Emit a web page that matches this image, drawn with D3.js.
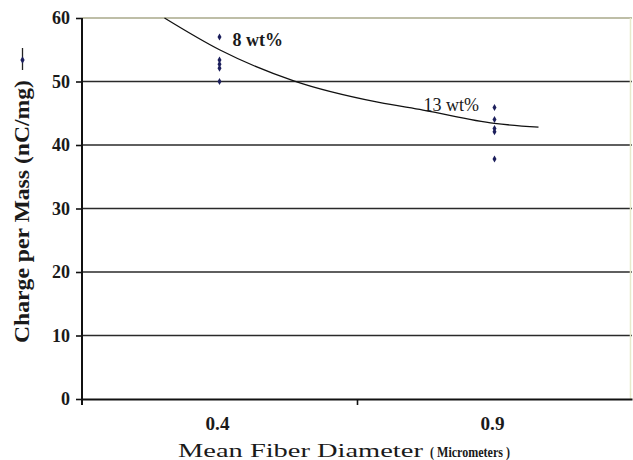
<!DOCTYPE html>
<html lang="en">
<head>
<meta charset="UTF-8">
<title>Charge per Mass vs Mean Fiber Diameter</title>
<style>
  html, body { margin: 0; padding: 0; background: #fff; }
  svg { display: block; font-family: "Liberation Serif", "DejaVu Serif", serif; }
</style>
</head>
<body>
<div id="chart"></div>
<script src="https://d3js.org/d3.v7.min.js"></script>
<script>
// category axis labels
const categories = ["0.4", "0.9"];
// y ticks
const yTicks = [0, 10, 20, 30, 40, 50, 60];
// measured points for each category
const points8 = [57.0, 53.4, 52.7, 52.1, 50.0];
const points13 = [45.9, 44.0, 42.6, 42.1, 37.8];
// trend line (category index, value)
const trendX = [0.8, 1.0, 1.27, 1.58, 1.74, 2.0, 2.16];
const trendY = [60.0, 55.0, 50.1, 46.7, 45.5, 43.4, 42.8];
const labels = [
  { text: "8 wt%", cat: 1, value: 56.5, dx: 13, bold: true },
  { text: "13 wt%", cat: 2, value: 46.3, dx: -71, bold: false }
];

const width = 633, height = 460;
const margin = { top: 18, right: 1, bottom: 61, left: 82 };

const svg = d3.select("#chart").append("svg")
  .attr("width", width)
  .attr("height", height);

// x is a category index scale, categories sit at 1 and 2
const x = d3.scaleLinear()
  .domain([0.5, categories.length + 0.5])
  .range([margin.left, width - margin.right]);

const y = d3.scaleLinear()
  .domain([0, 60])
  .range([height - margin.bottom, margin.top]);

// gridlines
svg.append("g")
  .selectAll("line")
  .data(yTicks.filter(d => d > 0))
  .join("line")
    .attr("x1", x(0.5))
    .attr("x2", x(categories.length + 0.5))
    .attr("y1", d => y(d))
    .attr("y2", d => y(d))
    .attr("stroke", d => d === 60 ? "#a9a98a" : "#2a2a2a")
    .attr("stroke-width", 1.6);

// faint right border of plot area
svg.append("line")
  .attr("x1", x(categories.length + 0.5) - 1.5)
  .attr("x2", x(categories.length + 0.5) - 1.5)
  .attr("y1", y(60))
  .attr("y2", y(0))
  .attr("stroke", "#e6eacb")
  .attr("stroke-width", 1.5);

// y axis
const yAxis = svg.append("g")
  .attr("transform", `translate(${margin.left},0)`)
  .call(d3.axisLeft(y).tickValues(yTicks).tickSize(6).tickPadding(6));
yAxis.select(".domain").remove();
yAxis.selectAll(".tick line").attr("stroke", "#111").attr("stroke-width", 1.6);
yAxis.selectAll(".tick text")
  .attr("font-family", "Liberation Serif, serif")
  .attr("font-size", 18)
  .attr("font-weight", "bold")
  .attr("fill", "#1a1a1a");

svg.append("line")
  .attr("x1", margin.left).attr("x2", margin.left)
  .attr("y1", y(60)).attr("y2", y(0) + 6)
  .attr("stroke", "#111").attr("stroke-width", 2);

// x axis, tick between the two categories
const xAxis = svg.append("g")
  .attr("transform", `translate(0,${y(0)})`)
  .call(d3.axisBottom(x)
    .tickValues(d3.range(1.5, categories.length, 1))
    .tickSizeInner(6)
    .tickSizeOuter(0)
    .tickFormat(""));
xAxis.select(".domain").attr("stroke", "#111").attr("stroke-width", 2);
xAxis.selectAll(".tick line").attr("stroke", "#111").attr("stroke-width", 1.6);

svg.append("g")
  .selectAll("text")
  .data(categories)
  .join("text")
    .attr("x", (d, i) => x(i + 1) - 2)
    .attr("y", y(0) + 31)
    .attr("text-anchor", "middle")
    .attr("font-size", 18)
    .attr("font-weight", "bold")
    .attr("fill", "#1a1a1a")
    .attr("textLength", 24)
    .attr("lengthAdjust", "spacingAndGlyphs")
    .text(d => d);

// axis titles
const xt = svg.append("text")
  .attr("x", 178)
  .attr("y", 457)
  .attr("fill", "#1a1a1a")
  .attr("font-size", 19);
xt.append("tspan").text("Mean Fiber Diameter ")
  .attr("textLength", 252).attr("lengthAdjust", "spacingAndGlyphs");
xt.append("tspan").text("( Micrometers )")
  .attr("font-size", 14).attr("font-weight", "bold")
  .attr("textLength", 80).attr("lengthAdjust", "spacingAndGlyphs");

svg.append("text")
  .attr("transform", "translate(29,343) rotate(-90)")
  .attr("font-size", 20)
  .attr("font-weight", "bold")
  .attr("fill", "#1a1a1a")
  .attr("textLength", 263)
  .attr("lengthAdjust", "spacingAndGlyphs")
  .text("Charge per Mass (nC/mg)");

// legend key next to the y title: short line with marker
svg.append("line")
  .attr("x1", 22.5).attr("x2", 22.5)
  .attr("y1", 48).attr("y2", 70)
  .attr("stroke", "#222").attr("stroke-width", 1.3);
svg.append("path")
  .attr("transform", "translate(22.5,60)")
  .attr("d", d3.symbol(d3.symbolDiamond, 16)())
  .attr("fill", "#1c1f5c");

// trend curve
const trend = trendX.map((d, i) => [d, trendY[i]]);
svg.append("path")
  .datum(trend)
  .attr("fill", "none")
  .attr("stroke", "#111")
  .attr("stroke-width", 1.3)
  .attr("d", d3.line()
    .curve(d3.curveMonotoneX)
    .x(d => x(d[0]))
    .y(d => y(d[1])));

// data points
const series = [points8, points13];
series.forEach((vals, i) => {
  svg.append("g")
    .selectAll("path")
    .data(vals)
    .join("path")
      .attr("transform", d => `translate(${x(i + 1)},${y(d)})`)
      .attr("d", d3.symbol(d3.symbolDiamond, 14)())
      .attr("fill", "#1c1f5c");
});

// annotations
svg.append("g")
  .selectAll("text")
  .data(labels)
  .join("text")
    .attr("x", d => x(d.cat) + d.dx)
    .attr("y", d => y(d.value) + 6)
    .attr("font-size", 18)
    .attr("font-weight", d => d.bold ? "bold" : "normal")
    .attr("fill", "#1a1a1a")
    .text(d => d.text);
</script>
</body>
</html>
